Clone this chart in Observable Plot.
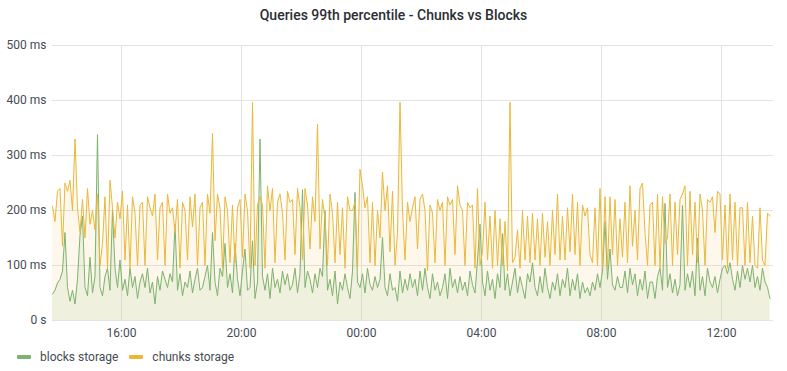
<!DOCTYPE html>
<html><head><meta charset="utf-8">
<script src="https://cdn.jsdelivr.net/npm/d3@7"></script>
<script src="https://cdn.jsdelivr.net/npm/@observablehq/plot@0.6"></script>
<style>
body{margin:0;background:#fff;font-family:Roboto,"Noto Sans",sans-serif;}
#title{height:30px;line-height:30px;text-align:center;font-size:14px;font-weight:500;color:#2c2e33;}
#chart{height:318px;}
#legend{height:18px;display:flex;align-items:center;padding-left:17px;font-size:12px;color:#464c54;}
.sw{display:inline-block;width:14px;height:4px;border-radius:1px;margin-right:9px;}
.item{display:flex;align-items:center;margin-right:11px;}
</style></head><body>
<div id="title">Queries 99th percentile - Chunks vs Blocks</div>
<div id="chart"></div>
<div id="legend"></div>
<script>
const seriesNames = ["blocks storage", "chunks storage"];
const seriesColors = ["#7EB26D", "#EAB839"];
const startTime = Date.UTC(2020, 6, 14, 13, 42);
const endTime = Date.UTC(2020, 6, 15, 13, 44);
const stepMs = 5 * 60 * 1000;
const chunks = [
 208,180,235,240,135,250,235,255,200,330,205,160,
 220,150,240,175,200,165,230,100,140,225,95,255,
 205,150,215,185,235,110,210,95,225,195,100,210,
 215,100,225,205,190,230,110,205,215,100,230,195,
 205,160,220,95,215,200,110,225,170,230,100,205,
 215,100,230,195,340,145,230,205,95,225,200,105,
 210,105,205,220,115,230,200,95,397,100,210,225,
 210,95,245,200,240,105,215,230,195,110,235,215,
 220,120,240,205,110,240,210,130,225,180,357,130,
 220,185,100,230,195,105,215,120,205,95,225,200,
 200,215,95,275,245,205,225,105,215,100,200,150,
 270,200,245,125,235,100,160,397,200,110,215,180,
 205,225,130,220,230,200,90,210,195,105,220,200,
 215,100,225,210,220,120,245,210,200,100,215,205,
 210,95,240,100,125,215,110,190,95,200,100,185,
 100,180,90,397,105,115,165,95,200,110,190,105,
 195,110,185,100,195,115,180,100,200,120,230,110,
 190,110,205,125,230,120,215,100,210,190,205,120,
 105,205,100,240,95,225,95,225,120,220,100,185,
 115,215,105,245,135,200,110,240,250,160,100,210,
 215,100,230,95,225,140,150,230,100,215,120,220,
 230,245,100,235,120,215,105,230,200,100,220,215,
 225,160,235,230,110,210,95,230,110,215,100,205,
 205,100,215,105,190,100,95,205,110,100,195,190
];
const blocks = [
 48,55,68,75,90,160,60,35,55,30,75,155,
 190,60,45,115,50,80,338,60,45,80,95,55,
 200,95,60,110,55,75,45,95,60,80,40,70,
 85,60,95,50,70,30,80,55,90,75,60,85,
 70,175,55,85,45,70,60,90,50,75,95,55,
 60,80,100,55,160,70,45,95,80,140,60,85,
 50,140,75,45,90,130,55,60,145,40,70,330,
 80,55,85,40,95,60,75,50,90,65,85,55,
 65,95,50,85,238,60,90,75,50,85,60,95,
 80,200,55,75,45,90,30,70,55,85,60,40,
 90,233,70,60,85,50,95,65,55,80,60,75,
 151,60,45,85,55,60,35,90,50,75,55,85,
 60,75,45,90,55,95,60,40,85,55,70,45,
 60,85,40,95,60,75,50,80,55,70,45,90,
 65,50,110,175,70,45,90,55,75,40,85,60,
 158,55,85,45,70,95,50,80,60,40,85,70,
 105,60,45,80,50,95,60,40,70,55,85,45,
 75,60,95,45,75,55,85,40,70,50,60,45,
 70,55,85,60,90,180,75,130,65,55,80,60,
 60,90,50,95,65,85,45,75,55,90,40,70,
 70,40,80,95,55,213,60,85,50,75,45,65,
 209,55,85,60,90,45,150,55,80,45,95,70,
 60,80,50,75,95,100,85,105,75,55,90,60,
 100,75,95,70,100,60,80,55,95,70,60,40
];
const yTicks = [0, 100, 200, 300, 400, 500];
const yTickLabels = ["0 s", "100 ms", "200 ms", "300 ms", "400 ms", "500 ms"];
const xTicks = [
 Date.UTC(2020,6,14,16), Date.UTC(2020,6,14,20), Date.UTC(2020,6,15,0),
 Date.UTC(2020,6,15,4), Date.UTC(2020,6,15,8), Date.UTC(2020,6,15,12)
].map(d => new Date(d));

const rows = chunks.map((v, i) => ({t: new Date(startTime + i * stepMs), chunks: v, blocks: blocks[i]}));
const gridColor = "#e3e3e3";
const textColor = "#464c54";

const chart = Plot.plot({
  width: 787, height: 318,
  marginTop: 15, marginBottom: 28, marginLeft: 52, marginRight: 14,
  style: {fontFamily: "Roboto, 'Noto Sans', sans-serif", fontSize: "12px", color: textColor, background: "#fff"},
  x: {type: "utc", domain: [new Date(startTime), new Date(endTime)]},
  y: {domain: [0, 500]},
  marks: [
    Plot.gridY(yTicks, {stroke: gridColor, strokeOpacity: 1}),
    Plot.gridX(xTicks, {stroke: gridColor, strokeOpacity: 1}),
    Plot.areaY(rows, {x: "t", y: "chunks", fill: seriesColors[1], fillOpacity: 0.1}),
    Plot.areaY(rows, {x: "t", y: "blocks", fill: seriesColors[0], fillOpacity: 0.1}),
    Plot.lineY(rows, {x: "t", y: "blocks", stroke: seriesColors[0], strokeWidth: 1}),
    Plot.lineY(rows, {x: "t", y: "chunks", stroke: seriesColors[1], strokeWidth: 1}),
    Plot.axisY(yTicks, {tickSize: 0, tickPadding: 6, tickFormat: (d) => yTickLabels[yTicks.indexOf(d)], label: null, fill: textColor}),
    Plot.axisX(xTicks, {tickSize: 0, tickPadding: 8, tickFormat: d3.utcFormat("%H:%M"), label: null, fill: textColor})
  ]
});
document.getElementById("chart").appendChild(chart);

const legend = document.getElementById("legend");
seriesNames.forEach((n, i) => {
  const it = document.createElement("div");
  it.className = "item";
  it.innerHTML = `<span class="sw" style="background:${seriesColors[i]}"></span><span>${n}</span>`;
  legend.appendChild(it);
});
</script>
</body></html>
